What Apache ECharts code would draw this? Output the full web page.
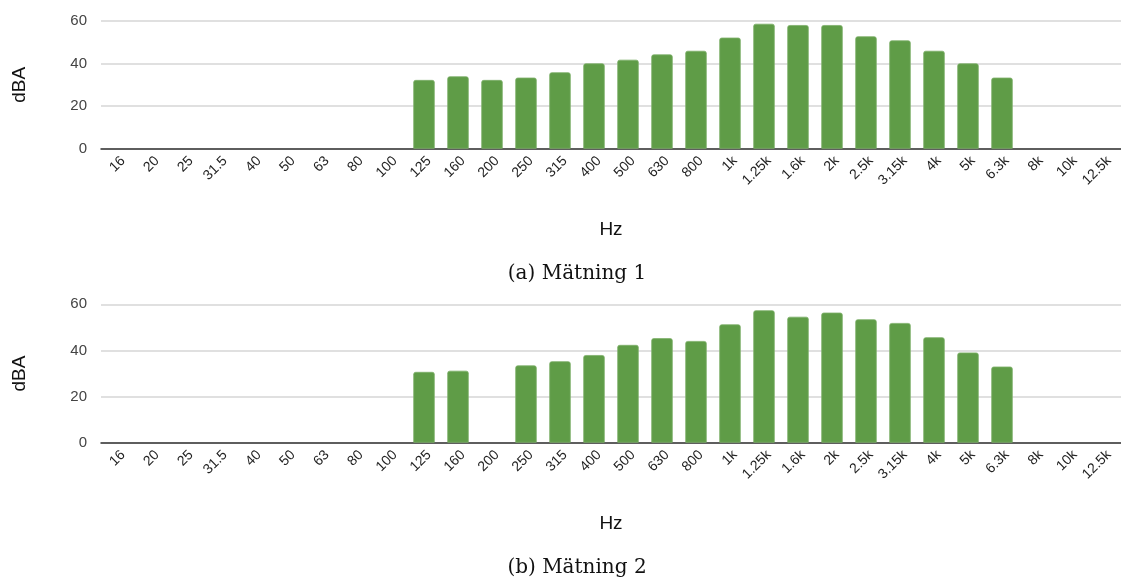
<!DOCTYPE html>
<html>
<head>
<meta charset="utf-8">
<script src="https://cdn.jsdelivr.net/npm/echarts@6/dist/echarts.min.js"></script>
<style>
html,body{margin:0;padding:0;background:#fff;}
#c{width:1121px;height:580px;}
</style>
</head>
<body>
<div id="c"></div>
<script>
var categories = ['16','20','25','31.5','40','50','63','80','100','125','160','200','250','315','400','500','630','800','1k','1.25k','1.6k','2k','2.5k','3.15k','4k','5k','6.3k','8k','10k','12.5k'];
var matning1 = [null,null,null,null,null,null,null,null,null,32.3,34.0,32.3,33.4,35.9,40.1,41.8,44.3,46.0,52.2,58.7,58.1,58.1,52.8,50.9,46.0,40.1,33.4,null,null,null];
var matning2 = [null,null,null,null,null,null,null,null,null,30.7,31.2,null,33.5,35.3,38.0,42.4,45.3,44.1,51.3,57.4,54.6,56.4,53.5,51.9,45.7,39.1,33.0,null,null,null];
var yTicks = [0,20,40,60];
var captions = ['(a) Mätning 1','(b) Mätning 2'];
var xTitle = 'Hz';
var yTitle = 'dBA';

var chart = echarts.init(document.getElementById('c'));
var grids = [
  {left:101, right:-7, top:21, height:127.7},
  {left:101, right:-7, top:304.3, height:138.4}
];
function xAxis(i){
  return {
    type:'category', gridIndex:i, data:categories,
    name:xTitle, nameLocation:'middle', nameGap:72,
    nameTextStyle:{fontFamily:'Liberation Sans, Arial', fontSize:19, color:'#111'},
    axisLine:{show:true, lineStyle:{color:'#333', width:1.5}},
    axisTick:{show:false},
    axisLabel:{rotate:45, interval:0, margin:5, verticalAlign:'top', fontFamily:'Liberation Sans, Arial', fontSize:14, color:'#222'}
  };
}
function yAxis(i){
  return {
    type:'value', gridIndex:i, min:yTicks[0], max:yTicks[yTicks.length-1], interval:20,
    name:yTitle, nameLocation:'middle', nameRotate:90, nameGap:72,
    nameTextStyle:{fontFamily:'Liberation Sans, Arial', fontSize:19, color:'#111'},
    axisLine:{show:false}, axisTick:{show:false},
    axisLabel:{margin:14, fontFamily:'Liberation Sans, Arial', fontSize:15, color:'#444'},
    splitLine:{lineStyle:{color:'#d6d6d6', width:1.5}}
  };
}
function series(i, data){
  return {
    type:'bar', xAxisIndex:i, yAxisIndex:i, data:data, barWidth:'63%',
    itemStyle:{color:'#5f9c47', borderColor:'#7db069', borderWidth:0.8, borderRadius:[2,2,0,0]},
    animation:false
  };
}
chart.setOption({
  animation:false,
  grid:grids,
  xAxis:[xAxis(0), xAxis(1)],
  yAxis:[yAxis(0), yAxis(1)],
  series:[series(0, matning1), series(1, matning2)],
  graphic:[
    {type:'text', x:577, y:274, style:{text:captions[0], font:'20px "DejaVu Serif"', fill:'#111', textAlign:'center', textVerticalAlign:'middle'}},
    {type:'text', x:577, y:568, style:{text:captions[1], font:'20px "DejaVu Serif"', fill:'#111', textAlign:'center', textVerticalAlign:'middle'}}
  ]
});
</script>
</body>
</html>
